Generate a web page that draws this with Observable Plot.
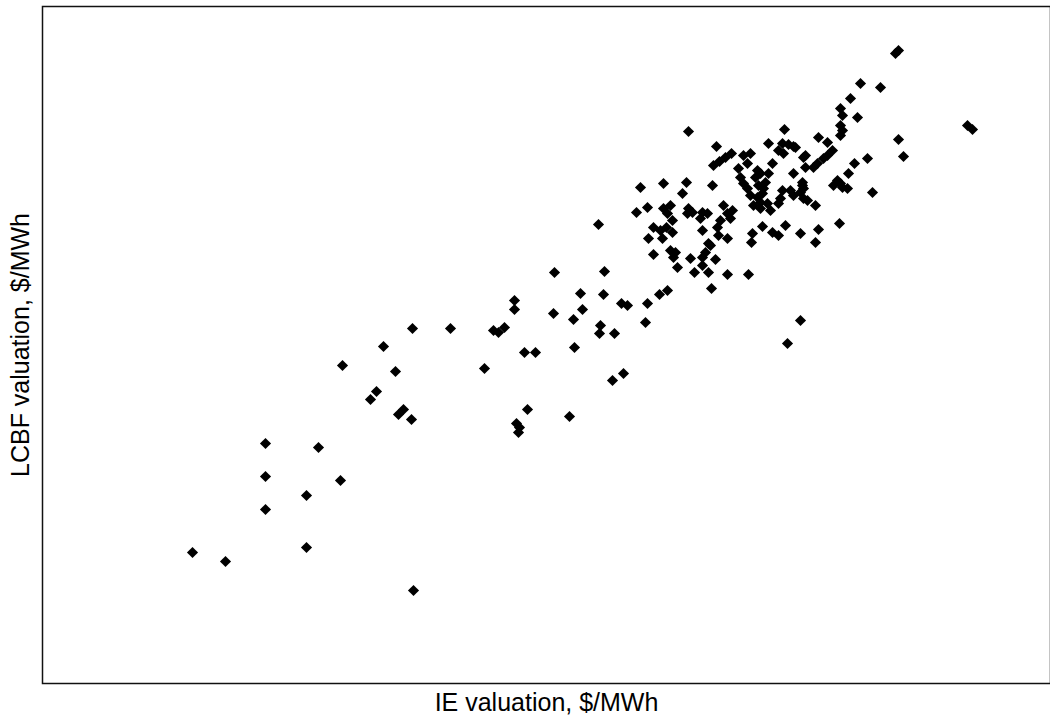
<!DOCTYPE html>
<html>
<head>
<meta charset="utf-8">
<script src="https://cdn.jsdelivr.net/npm/d3@7"></script>
<script src="https://cdn.jsdelivr.net/npm/@observablehq/plot@0.6"></script>
<style>
  html, body { margin: 0; padding: 0; background: #fff; }
  #chart svg { display: block; }
</style>
</head>
<body>
<div id="chart"></div>
<script>
// Axis titles (the reference shows no tick labels)
const xLabel = "IE valuation, $/MWh";
const yLabel = "LCBF valuation, $/MWh";

// Estimated valuations (arbitrary units, no scale shown)
const ieValuation = [
  15.0, 18.3, 22.3, 22.3, 22.3, 26.4, 26.4, 27.6, 29.8, 30.0,
  32.8, 33.4, 34.1, 35.3, 35.6, 36.1, 36.9, 37.0, 37.1, 40.8,
  44.2, 45.1, 45.6, 46.2, 47.2, 47.2, 47.4, 47.7, 47.6, 48.5,
  48.2, 49.3, 51.2, 51.1, 52.7, 53.1, 53.2, 53.8, 54.0, 55.6,
  55.7, 55.8, 56.2, 56.1, 57.0, 57.2, 57.9, 58.1, 58.5, 60.3,
  60.5, 61.7, 62.5, 59.8, 62.1, 64.4, 64.0, 67.0, 59.4, 60.5,
  62.1, 62.8, 62.5, 63.0, 64.6, 64.5, 65.0, 66.0, 66.5, 65.8,
  68.1, 68.5, 67.8, 61.1, 61.8, 62.4, 63.0, 60.6, 62.0, 66.0,
  67.5, 67.6, 68.5, 61.1, 62.8, 63.3, 63.1, 66.6, 66.3, 66.0,
  64.8, 63.5, 67.3, 66.0, 65.2, 66.6, 68.5, 66.9, 66.8, 70.6,
  75.8, 74.5, 71.0, 70.9, 73.0, 73.6, 75.8, 77.3, 64.6, 67.4,
  67.1, 67.7, 68.3, 68.9, 74.2, 72.6, 74.0, 74.6, 75.3, 73.6,
  74.1, 70.1, 70.8, 70.5, 73.0, 76.1, 71.5, 71.8, 71.3, 69.8,
  69.6, 72.6, 75.1, 70.1, 70.5, 71.6, 72.3, 72.1, 74.0, 74.8,
  75.1, 76.0, 75.8, 71.5, 72.0, 71.8, 73.8, 73.6, 70.8, 72.5,
  72.8, 71.1, 71.8, 69.0, 68.8, 76.5, 72.0, 74.3, 85.3, 85.6,
  81.8, 83.8, 80.8, 79.8, 81.5, 80.0, 79.8, 80.0, 79.8, 77.6,
  78.5, 79.0, 78.5, 78.1, 85.6, 86.1, 82.5, 81.2, 75.1, 76.3,
  76.3, 77.1, 77.5, 80.6, 76.0, 76.1, 79.5, 79.1, 79.8, 80.0,
  80.5, 83.0, 77.3, 79.7, 77.6, 76.1, 92.5, 93.0
];
const lcbfValuation = [
  13.1, 12.2, 24.0, 20.7, 17.4, 18.8, 13.6, 23.6, 20.3, 31.8,
  28.4, 29.2, 33.7, 31.2, 26.9, 27.4, 26.4, 35.5, 9.3, 35.5,
  31.5, 35.3, 35.1, 35.6, 38.3, 37.4, 26.0, 25.6, 25.1, 27.4,
  33.1, 33.1, 41.1, 37.0, 26.7, 36.4, 33.6, 39.0, 37.4, 45.9,
  35.0, 35.8, 41.2, 38.9, 30.3, 35.0, 38.0, 31.0, 37.8, 36.1,
  38.0, 38.9, 39.3, 49.6, 50.0, 50.1, 49.0, 49.8, 47.1, 47.6,
  47.5, 47.8, 47.0, 46.3, 47.5, 47.0, 47.1, 47.1, 47.0, 46.5,
  47.8, 47.0, 46.3, 45.6, 45.3, 45.6, 45.1, 44.5, 44.5, 45.3,
  45.6, 44.8, 44.5, 42.9, 43.3, 43.1, 42.6, 44.0, 43.1, 42.6,
  42.5, 41.6, 42.4, 41.8, 41.1, 41.1, 40.9, 39.5, 43.8, 40.9,
  36.3, 34.0, 45.0, 44.1, 45.1, 44.8, 45.0, 44.1, 55.2, 53.7,
  51.8, 52.2, 52.6, 53.0, 55.4, 54.0, 54.0, 53.9, 53.6, 53.3,
  53.0, 52.8, 53.0, 52.0, 52.0, 52.6, 51.3, 51.0, 50.6, 50.6,
  51.5, 51.0, 51.0, 50.0, 49.5, 49.8, 50.1, 49.5, 49.3, 49.3,
  48.8, 49.8, 49.1, 48.6, 49.0, 48.1, 48.5, 48.0, 48.8, 48.0,
  47.3, 47.8, 47.5, 47.3, 46.5, 48.3, 45.7, 45.8, 63.0, 63.3,
  60.0, 59.6, 58.5, 57.5, 56.6, 56.8, 55.8, 55.3, 54.8, 54.6,
  54.1, 53.3, 52.8, 52.5, 54.4, 52.7, 52.5, 52.0, 53.7, 52.8,
  51.6, 51.6, 52.0, 51.0, 50.1, 49.5, 50.3, 49.8, 50.0, 49.6,
  49.5, 49.1, 47.8, 46.0, 45.4, 48.5, 55.8, 55.4
];

const data = ieValuation.map((ie, i) => ({ie, lcbf: lcbfValuation[i]}));

const chart = Plot.plot({
  width: 1050,
  height: 717,
  marginLeft: 42,
  marginRight: 0,
  marginTop: 6,
  marginBottom: 34,
  style: {fontFamily: "'Liberation Sans', Arial, Helvetica, sans-serif", background: "#fff", color: "#000"},
  x: {domain: [0, 100.8], axis: null},
  y: {domain: [0, 67.7], axis: null},
  marks: [
    Plot.frame({stroke: "#111", strokeWidth: 1.5}),
    Plot.dot(data, {x: "ie", y: "lcbf", symbol: "diamond2", r: 5, fill: "#000", stroke: "none"}),
    Plot.text([xLabel], {frameAnchor: "bottom", textAnchor: "middle", lineAnchor: "middle", dy: 19, fontSize: 25, fill: "#000"}),
    Plot.text([yLabel], {frameAnchor: "left", textAnchor: "middle", lineAnchor: "middle", dx: -22, rotate: -90, fontSize: 25, fill: "#000"})
  ]
});
document.getElementById("chart").appendChild(chart);
</script>
</body>
</html>
